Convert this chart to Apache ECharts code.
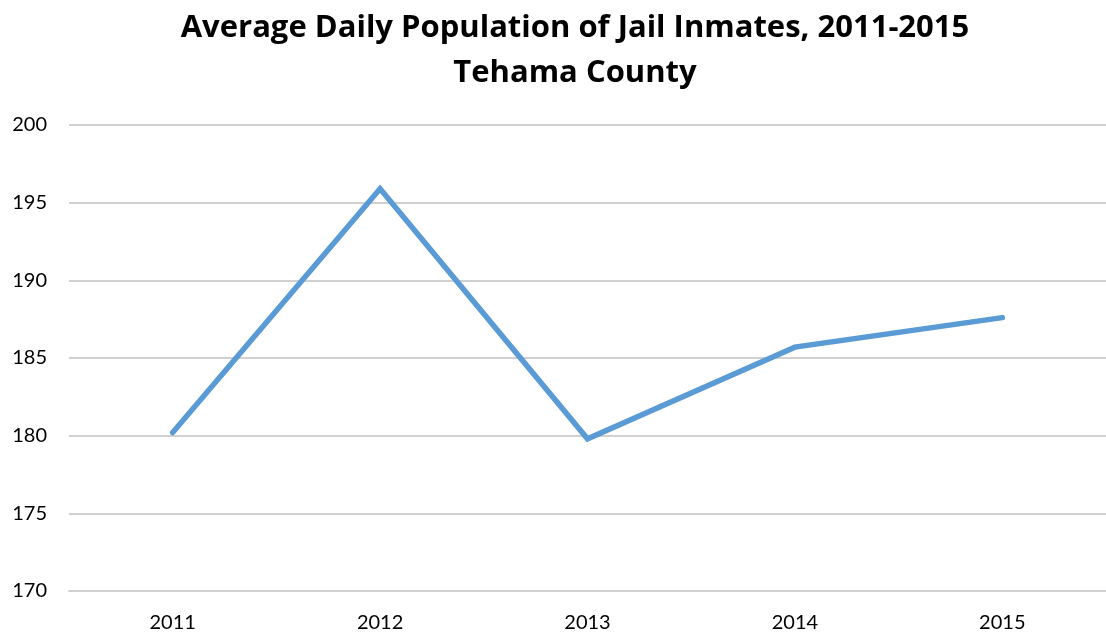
<!DOCTYPE html>
<html><head><meta charset="utf-8">
<script src="https://cdn.jsdelivr.net/npm/echarts@6/dist/echarts.min.js"></script>
<style>html,body{margin:0;padding:0;background:#fff}#c{width:1106px;height:633px}</style>
</head><body><div id="c"></div>
<script>
const years = ['2011','2012','2013','2014','2015'];
const population = [180.2, 195.9, 179.8, 185.7, 187.6];
const yTicks = {min:170, max:200, interval:5};
const titleLines = ['Average Daily Population of Jail Inmates, 2011-2015','Tehama County'];

const chart = echarts.init(document.getElementById('c'));
chart.setOption({
  animation:false,
  title:{
    text: titleLines.join('\n'),
    left: 570, top: 1, textAlign:'center',
    textStyle:{fontFamily:'Open Sans', fontWeight:'bold', fontSize:31, color:'#000', lineHeight:45}
  },
  grid:{left:69, right:-13, top:125, bottom:42},
  xAxis:{
    type:'category', data: years, boundaryGap:true,
    axisLine:{show:true, lineStyle:{color:'#d0d0d0', width:2}},
    axisTick:{show:false},
    axisLabel:{fontFamily:'Lato', fontSize:20, color:'#000', margin:22}
  },
  yAxis:{
    type:'value', min:yTicks.min, max:yTicks.max, interval:yTicks.interval,
    axisLine:{show:false}, axisTick:{show:false},
    splitLine:{lineStyle:{color:'#d0d0d0', width:2}},
    axisLabel:{fontFamily:'Lato', fontSize:20, color:'#000', margin:22}
  },
  series:[{
    type:'line', data: population, symbol:'none',
    lineStyle:{color:'#5B9BD5', width:5.5, cap:'round', join:'miter'}
  }]
});
</script></body></html>
